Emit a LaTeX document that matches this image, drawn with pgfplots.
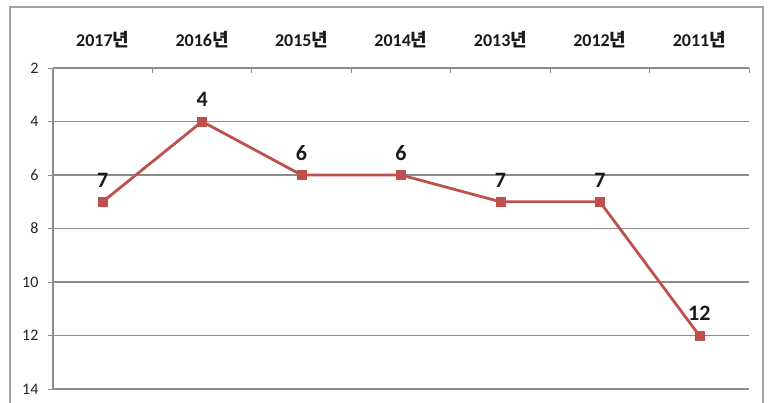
\documentclass[border=0pt]{standalone}
\usepackage{pgfplots}
\pgfplotsset{compat=1.18}
\usepackage{fontspec}
\setmainfont{Carlito}
\newfontfamily\kr{Noto Sans CJK KR}
\definecolor{gridgray}{HTML}{8C8C8C}
\definecolor{linered}{HTML}{C0504D}
\begin{document}
\begin{tikzpicture}[x=1pt,y=1pt]
\useasboundingbox (0,0) rectangle (773,402);
\draw[gridgray!80, line width=1.2pt] (10,-20) rectangle (763,395);
\begin{axis}[
  at={(53pt,13pt)}, anchor=south west,
  scale only axis, width=696pt, height=321pt,
  xmin=0.5, xmax=7.5, ymin=2, ymax=14, y dir=reverse,
  /pgf/number format/assume math mode=true,
  axis line style={draw=none},
  ytick={2,4,...,14},
  ymajorgrids, grid style={color=gridgray, line width=1.3pt},
  ytick pos=left, tick align=outside, major tick length=5pt,
  y tick style={color=gridgray, line width=1pt},
  yticklabel style={font=\fontsize{16}{18}\selectfont, text=black!85, xshift=-6pt},
  xtick={1,...,7},
  xticklabels={2017{\kr 년},2016{\kr 년},2015{\kr 년},2014{\kr 년},2013{\kr 년},2012{\kr 년},2011{\kr 년}},
  xticklabel pos=upper,
  x tick style={draw=none},
  xticklabel style={font=\fontsize{18}{20}\selectfont\bfseries, text=black!90, yshift=12pt},
  clip=false,
]
\addplot[color=linered, line width=2.8pt, mark=square*, mark size=4.5pt,
  mark options={fill=linered, draw=linered, line width=0.5pt},
  nodes near coords, every node near coord/.append style={anchor=south, yshift=11pt,
  font=\fontsize{22}{24}\selectfont\bfseries, text=black!90}]
  coordinates {(1,7) (2,4) (3,6) (4,6) (5,7) (6,7) (7,12)};
\draw[gridgray, line width=1.3pt] (axis cs:0.5,2) -- (axis cs:0.5,14);
\pgfplotsinvokeforeach{0.5,1.5,2.5,3.5,4.5,5.5,6.5,7.5}{
  \draw[gridgray, line width=1pt] (axis cs:#1,2) -- ([yshift=-5pt]axis cs:#1,2);
}
\end{axis}
\end{tikzpicture}
\end{document}
